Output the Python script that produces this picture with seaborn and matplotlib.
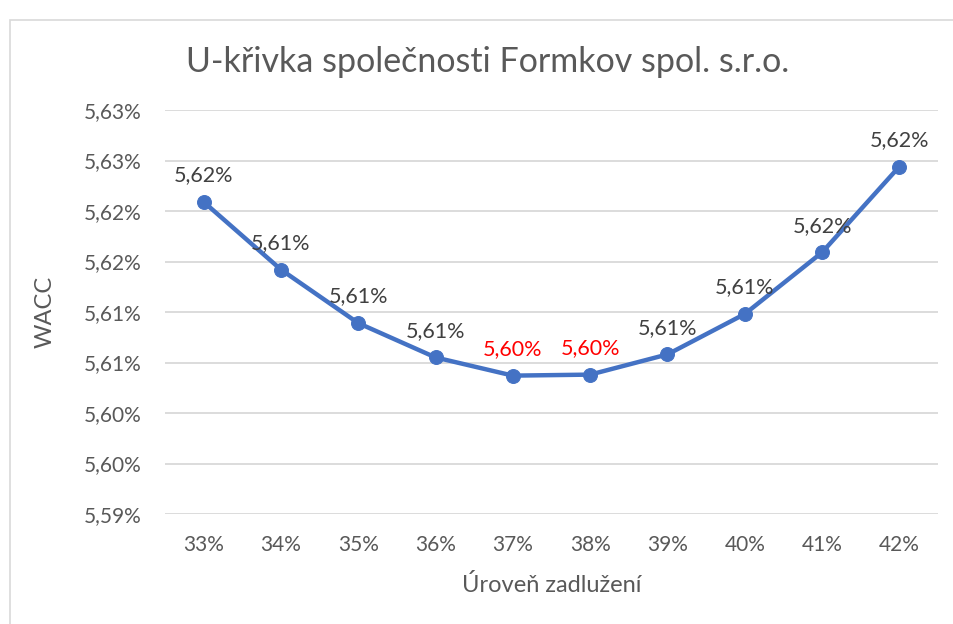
import numpy as np
import pandas as pd
import matplotlib
matplotlib.use('Agg')
import matplotlib.pyplot as plt
import seaborn as sns
from matplotlib.patches import Rectangle

# data
zadluzeni = ['33%', '34%', '35%', '36%', '37%', '38%', '39%', '40%', '41%', '42%']
wacc = [5.6209, 5.6142, 5.6089, 5.6055, 5.6037, 5.6038, 5.6058, 5.6098, 5.6159, 5.6244]
popisky = ['5,62%', '5,61%', '5,61%', '5,61%', '5,60%', '5,60%', '5,61%', '5,61%', '5,62%', '5,62%']
barvy_popisku = ['#404040'] * 4 + ['#FF0000', '#FF0000'] + ['#404040'] * 4
y_ticks = [5.590, 5.595, 5.600, 5.605, 5.610, 5.615, 5.620, 5.625, 5.630]
y_labels = ['5,59%', '5,60%', '5,60%', '5,61%', '5,61%', '5,62%', '5,62%', '5,63%', '5,63%']

df = pd.DataFrame({'Uroven': zadluzeni, 'WACC': wacc})

sns.set_style('white')
plt.rcParams['font.family'] = ['Lato', 'DejaVu Sans']

fig = plt.figure(figsize=(9.54, 6.24), dpi=100)
ax = fig.add_axes([165 / 954, 1 - 514 / 624, (938 - 165) / 954, (514 - 110) / 624])

sns.lineplot(data=df, x='Uroven', y='WACC', ax=ax, color='#4472C4', linewidth=3.2,
             marker='o', markersize=10, markeredgecolor='#4472C4', sort=False)

for i, (v, t, c) in enumerate(zip(wacc, popisky, barvy_popisku)):
    ax.annotate(t, (i, v), xytext=(0, 12), textcoords='offset points', ha='center',
                va='bottom', fontsize=15.5, color=c)

ax.set_xlim(-0.5, len(zadluzeni) - 0.5)
ax.set_ylim(5.590, 5.630)
ax.set_yticks(y_ticks)
ax.set_yticklabels(y_labels)
ax.yaxis.grid(True, color='#D9D9D9', linewidth=1.3)
ax.set_axisbelow(True)
for s in ax.spines.values():
    s.set_visible(False)
ax.tick_params(axis='both', length=0, labelsize=15, labelcolor='#595959')
ax.tick_params(axis='y', pad=17)
ax.tick_params(axis='x', pad=15)
ax.set_xlabel('Úroveň zadlužení', fontsize=17, color='#595959', labelpad=14)
ax.set_ylabel('WACC', fontsize=17, color='#595959', labelpad=20)

fig.text(488 / 954, 1 - 62 / 624, 'U-křivka společnosti Formkov spol. s.r.o.',
         ha='center', va='center', fontsize=24.5, color='#595959')

fig.patches.append(Rectangle((10 / 954, -0.1), 1.2, 1 - 20 / 624 + 0.1, transform=fig.transFigure,
                             fill=False, edgecolor='#D9D9D9', linewidth=1.2))

fig.savefig('out.png', dpi=100)
